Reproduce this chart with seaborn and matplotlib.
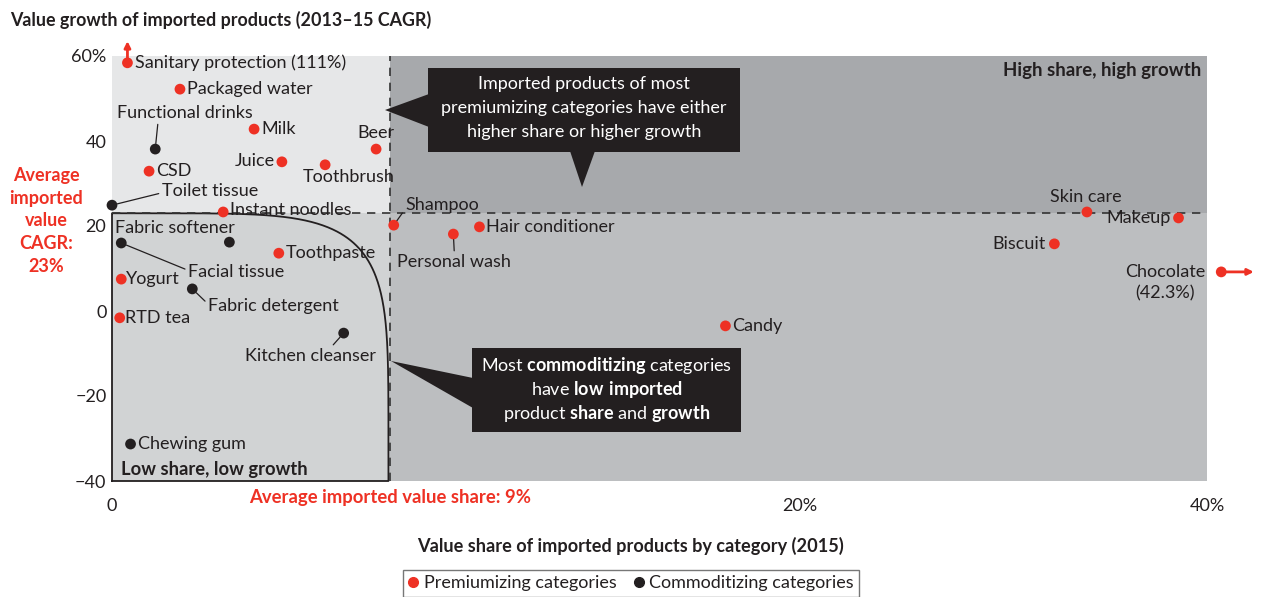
import numpy as np
import pandas as pd
import seaborn as sns
import matplotlib
matplotlib.use("Agg")
import matplotlib.pyplot as plt
import matplotlib.transforms as mtransforms
from matplotlib.patches import Rectangle, Polygon
from matplotlib.lines import Line2D

W, H = 1264, 597
RED = "#ee3124"
INK = "#231f20"

# category data (share in %, growth = 2013-15 CAGR in %)
categories = ["Sanitary protection", "Packaged water", "Milk", "Juice", "Toothbrush",
              "Beer", "CSD", "Instant noodles", "Toothpaste", "Yogurt", "RTD tea",
              "Shampoo", "Hair conditioner", "Personal wash", "Candy", "Skin care",
              "Makeup", "Biscuit", "Chocolate",
              "Functional drinks", "Toilet tissue", "Fabric softener", "Facial tissue",
              "Fabric detergent", "Kitchen cleanser", "Chewing gum"]
share = [0.5, 2.2, 4.6, 5.5, 6.9, 8.55, 1.2, 3.6, 5.4, 0.3, 0.25,
         9.1, 11.4, 10.7, 18.0, 34.1, 38.6, 32.5, 42.3,
         1.4, 0.0, 3.8, 0.3, 2.6, 7.5, 0.6]
growth = [111, 52.2, 42.8, 35.1, 34.4, 38.1, 32.9, 23.3, 13.6, 7.5, -1.6,
          20.2, 19.8, 18.1, -3.5, 23.3, 21.9, 15.8, 9.2,
          38.1, 24.9, 16.2, 16.0, 5.2, -5.2, -31.3]
group = ["Premiumizing categories"] * 19 + ["Commoditizing categories"] * 7

AVG_SHARE = 9
AVG_GROWTH = 23
x_ticks = [0, 20, 40]
x_ticklabels = ["0", "20%", "40%"]
y_ticks = [-40, -20, 0, 20, 40, 60]
y_ticklabels = ["\u221240", "\u221220", "0", "20", "40", "60%"]

# label placement: (dx, dy) in pixels, ha, leader line relpos or None
labels = {
    "Sanitary protection": ("Sanitary protection (111%)", 8, 0, "left", None),
    "Packaged water": ("Packaged water", 7, 0, "left", None),
    "Milk": ("Milk", 7, 0, "left", None),
    "Juice": ("Juice", -7, 1, "right", None),
    "Toothbrush": ("Toothbrush", 24, -12, "center", None),
    "Beer": ("Beer", 0, 16, "center", None),
    "CSD": ("CSD", 7, 0, "left", None),
    "Instant noodles": ("Instant noodles", 7, 2, "left", None),
    "Toothpaste": ("Toothpaste", 7, 0, "left", None),
    "Yogurt": ("Yogurt", 5, 0, "left", None),
    "RTD tea": ("RTD tea", 5, 0, "left", None),
    "Shampoo": ("Shampoo", 12, 20, "left", (0, 0.3)),
    "Hair conditioner": ("Hair conditioner", 7, 0, "left", None),
    "Personal wash": ("Personal wash", 1, -28, "center", (0.5, 1)),
    "Candy": ("Candy", 7, 0, "left", None),
    "Skin care": ("Skin care", -1, 15, "center", None),
    "Makeup": ("Makeup", -8, 0, "right", None),
    "Biscuit": ("Biscuit", -9, 0, "right", None),
    "Chocolate": ("Chocolate\n(42.3%)", -56, -11, "center", None),
    "Functional drinks": ("Functional drinks", 30, 36, "center", (0.3, 0)),
    "Toilet tissue": ("Toilet tissue", 50, 14, "left", (0, 0.4)),
    "Fabric softener": ("Fabric softener", -114, 14, "left", (1, 0.3)),
    "Facial tissue": ("Facial tissue", 67, -29, "left", (0, 0.6)),
    "Fabric detergent": ("Fabric detergent", 16, -17, "left", (0, 0.6)),
    "Kitchen cleanser": ("Kitchen cleanser", -33, -23, "center", (0.65, 1)),
    "Chewing gum": ("Chewing gum", 7, 0, "left", None),
}

# piecewise x scale as drawn in the source chart
XK = np.array([0, 9, 20, 40], float)
PK = np.array([0, 278, 688, 1095], float)


def fwd(x):
    x = np.asarray(x, float)
    out = np.interp(x, XK, PK)
    out = out + np.where(x > XK[-1], (x - XK[-1]) * (PK[-1] - PK[-2]) / (XK[-1] - XK[-2]), 0)
    out = out + np.where(x < 0, x * PK[1] / XK[1], 0)
    return out


def inv(p):
    p = np.asarray(p, float)
    out = np.interp(p, PK, XK)
    out = out + np.where(p > PK[-1], (p - PK[-1]) * (XK[-1] - XK[-2]) / (PK[-1] - PK[-2]), 0)
    out = out + np.where(p < 0, p * XK[1] / PK[1], 0)
    return out


df = pd.DataFrame({"category": categories, "share": share, "growth": growth, "group": group})
# off-scale points sit on the edge with an arrow
df["x_plot"] = np.minimum(df["share"], 40.7)
df["y_plot"] = np.minimum(df["growth"], 58.4)

sns.set_style("white")
plt.rcParams["font.family"] = ["Lato", "DejaVu Sans"]
plt.rcParams["mathtext.fontset"] = "custom"
plt.rcParams["mathtext.rm"] = "Lato"
plt.rcParams["mathtext.bf"] = "Lato:bold"

fig = plt.figure(figsize=(W / 100, H / 100), dpi=100)
ax = fig.add_axes([112 / W, 1 - 481 / H, (1207 - 112) / W, (481 - 56) / H])
ax.set_xscale("function", functions=(fwd, inv))
ax.set_xlim(0, 40)
ax.set_ylim(-40, 60)
px = mtransforms.Affine2D().scale(1 / W, -1 / H).translate(0, 1) + fig.transFigure

# quadrant backgrounds
ax.fill_between([0, AVG_SHARE], AVG_GROWTH, 60, color="#e6e7e8", lw=0, zorder=0)
ax.fill_between([AVG_SHARE, 40], AVG_GROWTH, 60, color="#a7a9ac", lw=0, zorder=0)
ax.fill_between([AVG_SHARE, 40], -40, AVG_GROWTH, color="#bcbec0", lw=0, zorder=0)
ax.fill_between([0, AVG_SHARE], -40, AVG_GROWTH, color="#d1d3d4", lw=0, zorder=0)

# rounded low-share/low-growth outline
t = np.linspace(np.pi / 2, 0, 300)
n = 5.5
cx = 8.95 * np.cos(t) ** (2 / n)
cy = -40 + (AVG_GROWTH - -40) * np.sin(t) ** (2 / n)
ox = np.concatenate([[0, 0], cx, [0]])
oy = np.concatenate([[-40, AVG_GROWTH], cy, [-40]])
ax.plot(ox, oy, color=INK, lw=1.3, clip_on=False, zorder=2)

ax.axhline(AVG_GROWTH, color="#333333", lw=1.2, dashes=(5, 4), zorder=2)
ax.axvline(AVG_SHARE, color="#333333", lw=1.2, dashes=(5, 4), zorder=2)

sns.scatterplot(data=df, x="x_plot", y="y_plot", hue="group",
                palette={"Premiumizing categories": RED, "Commoditizing categories": INK},
                s=60, edgecolor="none", legend=False, clip_on=False, zorder=4, ax=ax)

for _, r in df.iterrows():
    text, dx, dy, ha, rel = labels[r["category"]]
    props = None
    if rel is not None:
        props = dict(arrowstyle="-", color=INK, lw=0.9, relpos=rel, shrinkA=0, shrinkB=4)
    ax.annotate(text, xy=(r["x_plot"], r["y_plot"]), xytext=(dx, dy), textcoords="offset pixels",
                ha=ha, va="center", fontsize=13, color=INK, arrowprops=props,
                annotation_clip=False, zorder=5, linespacing=1.4)

# off-scale arrows
san = df[df["category"] == "Sanitary protection"].iloc[0]
ax.annotate("", xy=(san["x_plot"], 63.5), xytext=(san["x_plot"], san["y_plot"]),
            arrowprops=dict(arrowstyle="-|>", color=RED, lw=2, shrinkA=0, shrinkB=0, mutation_scale=9),
            annotation_clip=False)
cho = df[df["category"] == "Chocolate"].iloc[0]
ax.annotate("", xy=(cho["share"], cho["y_plot"]), xytext=(cho["x_plot"], cho["y_plot"]),
            arrowprops=dict(arrowstyle="-|>", color=RED, lw=2, shrinkA=0, shrinkB=0, mutation_scale=9),
            annotation_clip=False)

ax.set_xticks(x_ticks, x_ticklabels)
ax.set_yticks(y_ticks, y_ticklabels)
ax.tick_params(length=0, labelsize=13, labelcolor=INK)
ax.tick_params(axis="x", pad=12)
ax.tick_params(axis="y", pad=4)
ax.set_xlabel("")
ax.set_ylabel("")
for s in ax.spines.values():
    s.set_visible(False)

ax.text(0.995, 0.965, "High share, high growth", transform=ax.transAxes, ha="right", va="center",
        fontsize=13.4, fontweight="bold", color=INK)
ax.text(0.008, 0.027, "Low share, low growth", transform=ax.transAxes, ha="left", va="center",
        fontsize=13.2, fontweight="bold", color=INK)

ax.annotate("Average imported value share: 9%", xy=(AVG_SHARE, -40), xytext=(0, -17),
            textcoords="offset pixels", ha="center", va="center", fontsize=13.3,
            fontweight="bold", color=RED, annotation_clip=False)
fig.text(46, 221, "Average\nimported\nvalue\nCAGR:\n23%", transform=px, ha="center", va="center",
         fontsize=13, fontweight="bold", color=RED, linespacing=1.4)

fig.text(10, 20, "Value growth of imported products (2013\u201315 CAGR)", transform=px,
         ha="left", va="center", fontsize=12.9, fontweight="bold", color=INK)
fig.text(630, 546, "Value share of imported products by category (2015)", transform=px,
         ha="center", va="center", fontsize=13.1, fontweight="bold", color=INK)

# callouts
fig.add_artist(Rectangle((428, 68), 312, 84, transform=px, color=INK, lw=0))
fig.add_artist(Polygon([(429, 94), (429, 127), (385, 110)], transform=px, color=INK, lw=0))
fig.add_artist(Polygon([(570, 151), (595, 151), (582, 187)], transform=px, color=INK, lw=0))
for yy, line in zip([84, 108, 132], ["Imported products of most",
                                     "premiumizing categories have either",
                                     "higher share or higher growth"]):
    fig.text(584, yy, line, transform=px, ha="center", va="center", fontsize=13, color="white")

fig.add_artist(Rectangle((472, 348), 269, 84, transform=px, color=INK, lw=0))
fig.add_artist(Polygon([(473, 378), (473, 408), (391, 361)], transform=px, color=INK, lw=0))
for yy, line in zip([365, 389, 413], [r"Most $\mathbf{commoditizing}$ categories",
                                      r"have $\mathbf{low\ imported}$",
                                      r"product $\mathbf{share}$ and $\mathbf{growth}$"]):
    fig.text(607, yy, line, transform=px, ha="center", va="center", fontsize=13, color="white")

handles = [Line2D([], [], marker="o", ls="", color=RED, markersize=7),
           Line2D([], [], marker="o", ls="", color=INK, markersize=7)]
leg = fig.legend(handles, ["Premiumizing categories", "Commoditizing categories"],
                 loc="upper center", bbox_to_anchor=(631 / W, 1 - 570 / H), ncol=2,
                 frameon=True, fancybox=False, edgecolor="#555555", fontsize=13,
                 handlelength=0.6, handletextpad=0.3, columnspacing=0.9, borderpad=0.3,
                 borderaxespad=0)
leg.get_frame().set_linewidth(1.0)
for t_ in leg.get_texts():
    t_.set_color(INK)

fig.savefig("out.png", dpi=100)
